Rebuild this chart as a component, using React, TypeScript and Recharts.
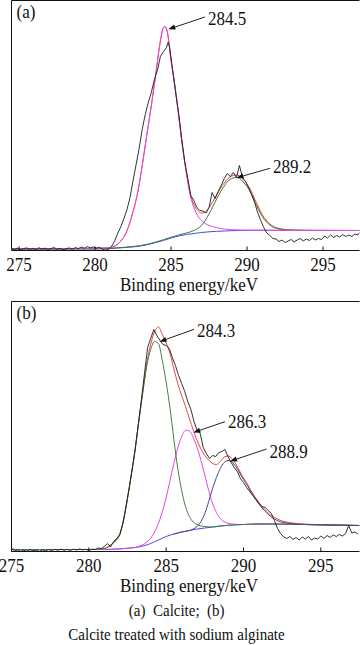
import React from 'react';
import { LineChart, Line, XAxis, YAxis, ReferenceLine } from 'recharts';

type Pt = [number, number];

const energyTicks = [275, 280, 285, 290, 295];

// ---------- Panel (a): Calcite ----------
const rawA: Pt[] = [
  [274.5,2.0],[274.7,1.0],[274.9,2.4],[275.1,0.8],[275.3,1.9],[275.5,2.6],[275.7,1.2],[275.9,2.2],[276.1,1.0],[276.3,2.8],
  [276.5,1.5],[276.7,2.4],[276.9,1.1],[277.1,2.0],[277.3,2.9],[277.5,1.3],[277.7,2.2],[277.9,0.9],[278.1,1.8],[278.3,2.6],
  [278.5,1.4],[278.7,2.9],[278.9,2.0],[279.1,3.4],[279.3,2.3],[279.5,3.8],[279.7,2.6],[279.9,3.5],[280.1,2.4],[280.3,3.2],
  [280.5,1.0],[280.7,0.4],[280.9,1.5],[281.1,4.5],[281.3,10],[281.5,17.5],[281.7,24],[281.9,32],[282.1,41],[282.3,53],
  [282.5,70],[282.7,86],[282.9,102],[283.1,121],[283.3,136],[283.5,148],[283.7,158],[283.9,171],[284.1,180],[284.3,194],
  [284.5,199],[284.7,203],[284.8,208],[284.9,204],[285.1,181],[285.3,158],[285.5,137],[285.7,112],[285.9,89],[286.1,72],
  [286.3,55],[286.5,50],[286.7,43],[286.9,40],[287.1,39.5],[287.3,37.5],[287.5,43],[287.7,58],[287.9,52],[288.1,59],
  [288.3,65],[288.5,72],[288.7,77],[288.9,74],[289.1,78],[289.3,73],[289.5,85],[289.7,73],[289.9,69],[290.1,63],
  [290.3,56],[290.5,48],[290.7,38],[290.9,30],[291.1,23],[291.3,17.5],[291.5,15],[291.7,12],[291.9,11.5],[292.1,9],
  [292.3,10.5],[292.5,8],[292.7,9.5],[292.9,11],[293.1,8.5],[293.3,10.5],[293.5,12],[293.7,9.5],[293.9,11.5],[294.1,10],
  [294.3,12.5],[294.5,10.5],[294.7,12],[294.9,11],[295.1,14.5],[295.3,12.5],[295.5,15.5],[295.7,13],[295.9,15],[296.1,13.5],
  [296.3,16],[296.5,14],[296.7,15.5],[296.9,14],[297.1,16.5],[297.3,15.5],[297.4,18],
];

const peak1A: Pt[] = [
  [274.5,1.5],[277,1.7],[279,2.0],[280,2.2],[280.5,2.5],[281,3],[281.25,4.2],[281.5,6.5],[281.75,10.5],[282,16.5],
  [282.25,26],[282.5,39],[282.75,54],[283,75],[283.25,100],[283.5,125],[283.75,150],[284,177],[284.25,205],[284.5,223],
  [284.6,224],[284.75,219],[285,190],[285.25,165],[285.5,135],[285.75,104],[286,78],[286.25,56],[286.5,43],[286.75,35],
  [287,30],[287.25,27],[287.5,25],[287.75,23.8],[288,22.8],[288.5,21.5],[289,20.8],[290,20.3],[291,20.1],[292,20],[297.4,20],
];

const peak2A: Pt[] = [
  [274.5,1.5],[280,1.6],[281,2.2],[282,3.3],[283,5],[283.5,6.5],[284,8.5],[284.5,10.8],[285,13.3],[285.5,15.5],
  [286,17.5],[286.25,18.5],[286.5,20],[286.75,22],[287,25],[287.25,30],[287.5,36.5],[287.75,44],[288,51.5],[288.25,58.5],
  [288.5,64.5],[288.75,69.5],[289,72],[289.25,73],[289.5,72],[289.75,68.5],[290,64],[290.25,57.5],[290.5,49],[290.75,41],
  [291,34],[291.25,29],[291.5,25.5],[291.75,23],[292,21.8],[292.5,20.7],[293,20.3],[294,20.1],[297.4,20],
];

const envelopeA: Pt[] = [
  [274.5,1.5],[277,1.7],[279,2.0],[280,2.2],[280.5,2.5],[281,3],[281.25,4.2],[281.5,6.5],[281.75,10.5],[282,16.5],
  [282.25,26],[282.5,39],[282.75,54],[283,75],[283.25,100],[283.5,125],[283.75,150],[284,177],[284.25,205],[284.5,223],
  [284.6,224],[284.75,219],[285,190],[285.25,165],[285.5,135],[285.75,104],[286,79],[286.25,57.5],[286.5,46],[286.75,40],
  [287,37.5],[287.25,38.5],[287.5,43],[287.75,49],[288,55.5],[288.25,62],[288.5,67.5],[288.75,72],[289,74.5],[289.25,75.5],
  [289.5,74.5],[289.75,71],[290,66.5],[290.25,60],[290.5,51.5],[290.75,43.5],[291,36],[291.25,30.5],[291.5,26.5],[291.75,24],
  [292,22.5],[292.5,21],[293,20.4],[294,20.1],[297.4,20],
];

const backgroundA: Pt[] = [
  [274.5,1.5],[280,1.6],[281,2],[282,3],[283,4.5],[283.5,6],[284,8],[284.5,10],[285,12.5],[285.5,14.5],
  [286,16],[286.5,17],[287,18],[287.5,18.7],[288,19.2],[288.5,19.5],[289,19.8],[290,20.2],[291,20.3],[293,20.2],[297.4,20],
];

// ---------- Panel (b): Calcite treated with sodium alginate ----------
const rawB: Pt[] = [
  [275.0,2.7],[275.2,0.6],[275.4,1.5],[275.6,0.3],[275.8,1.2],[276.0,0.4],[276.2,1.8],[276.4,0.7],[276.6,1.4],[276.8,0.2],
  [277.0,1.6],[277.2,0.6],[277.4,1.9],[277.6,1.0],[277.8,2.1],[278.0,1.2],[278.2,2.4],[278.4,1.3],[278.6,2.0],[278.8,1.1],
  [279.0,2.3],[279.2,1.5],[279.4,2.6],[279.6,1.6],[279.8,2.2],[280.0,1.0],[280.2,2.4],[280.4,2.0],[280.6,3.5],[280.8,3.0],
  [281.0,5],[281.2,8],[281.4,4.5],[281.6,10],[281.8,13],[282.0,17],[282.2,28],[282.4,45],[282.6,63],[282.8,82],
  [283.0,102],[283.2,128],[283.4,152],[283.6,178],[283.8,204],[284.0,213],[284.2,222],[284.4,216],[284.6,211],[284.8,207],
  [285.0,206],[285.2,203],[285.4,194],[285.6,186],[285.8,176],[286.0,168],[286.2,160],[286.4,150],[286.6,142],[286.8,130],
  [287.0,121],[287.2,118],[287.4,104],[287.6,98],[287.8,93],[288.0,96],[288.2,95],[288.4,99],[288.6,100],[288.8,102],
  [289.0,95],[289.2,89],[289.4,84],[289.6,80],[289.8,73],[290.0,69],[290.2,64],[290.4,60],[290.6,56],[290.8,52],
  [291.0,48],[291.2,45],[291.4,44],[291.6,41],[291.8,38],[292.0,31],[292.2,23],[292.4,18],[292.6,14.5],[292.8,13],
  [293.0,15],[293.2,12],[293.4,14],[293.6,11.5],[293.8,14.5],[294.0,12.5],[294.2,15],[294.4,11.5],[294.6,13.5],[294.8,12.5],
  [295.0,15.5],[295.2,13],[295.4,16],[295.6,14],[295.8,16.5],[296.0,15],[296.2,17],[296.4,15.5],[296.6,18],[296.8,26],
  [297.0,18.5],[297.2,19.5],[297.4,17.5],
];

const peak1B: Pt[] = [
  [275,2],[280.5,2],[280.75,2.5],[281,3],[281.25,4.5],[281.5,7.5],[281.75,11.5],[282,17],[282.25,32],[282.5,53],
  [282.75,77],[283,103],[283.25,132],[283.5,160],[283.75,186],[284,202],[284.25,210],[284.5,208],[284.75,191],[285,169.5],
  [285.25,143],[285.5,112],[285.75,83],[286,61],[286.25,45],[286.5,35],[286.75,29.5],[287,27],[287.25,25.5],[287.5,25],
  [287.75,24.6],[288,24.5],[288.5,25.5],[289,26.2],[290,27],[291,27.5],[292,27.5],[293,27.2],[295,26.7],[297.5,26],
];

const peak2B: Pt[] = [
  [275,3.5],[275.3,2],[281,2],[283,4],[283.25,5.3],[283.5,6.8],[283.75,9.4],[284,13.3],[284.25,19.5],[284.5,28.1],
  [284.75,39.6],[285,54.1],[285.25,70.9],[285.5,88.1],[285.75,103.5],[286,114.7],[286.25,121.2],[286.5,120.5],[286.75,114],[287,104],
  [287.25,91],[287.5,76],[287.75,61],[288,48],[288.25,39],[288.5,33],[288.75,29.8],[289,28.2],[289.5,27.2],[290,27],
  [291,27.5],[292,27.5],[293,27.2],[294,27],[295,26.7],[296,26.4],[297.5,26],
];

const peak3B: Pt[] = [
  [285.5,17.5],[286,19.5],[286.5,21],[286.75,22.5],[287,25],[287.25,30],[287.5,38],[287.75,50],[288,63],[288.25,74],
  [288.5,83],[288.75,89],[289,91],[289.25,89.5],[289.5,85],[289.75,78.5],[290,72],[290.25,66],[290.5,59],[290.75,53],
  [291,47.5],[291.25,42.5],[291.5,38.5],[291.75,35],[292,32.5],[292.25,30.5],[292.5,29.3],[293,28],[293.5,27.4],[294,27],
  [295,26.7],[296,26.4],[297.5,26],
];

const envelopeB: Pt[] = [
  [275,2],[280.5,2],[281,3],[281.5,7.5],[282,17],[282.25,32],[282.5,53],[282.75,77],[283,103],[283.25,132.6],
  [283.5,161.3],[283.75,188.7],[284,207.3],[284.25,219.8],[284.5,224.5],[284.75,217],[285,208.5],[285.25,198],[285.5,182.5],[285.75,168],
  [286,156],[286.25,145],[286.5,133],[286.75,121.5],[287,111],[287.25,102.5],[287.5,96],[287.75,91.5],[288,88],[288.25,87],
  [288.5,90],[288.75,94.5],[289,95.5],[289.25,93],[289.5,87.5],[289.75,80.5],[290,73.5],[290.25,67.5],[290.5,60.5],[290.75,54.5],
  [291,49],[291.25,44],[291.5,40],[291.75,36.5],[292,34],[292.25,32],[292.5,30.5],[293,28.8],[293.5,27.8],[294,27.3],
  [295,26.8],[296,26.4],[297.5,26],
];

const backgroundB: Pt[] = [
  [275,2],[281,2],[281.5,2.3],[282,2.7],[282.5,3.3],[283,4],[283.5,5.5],[284,8],[284.5,11.5],[285,15],
  [285.5,17.5],[286,19.5],[286.5,21],[287,22.5],[287.5,23.5],[288,24.5],[288.5,25.5],[289,26.2],[289.5,26.7],[290,27],
  [291,27.5],[292,27.5],[293,27.2],[294,27],[295,26.7],[296,26.4],[297.5,26],
];

// peak annotations: label, tail point and arrow tip (energy, intensity)
type Ann = { text: string; tail: Pt; tip: Pt; dy: number };
const annotationsA: Ann[] = [
  { text: '284.5', tail: [287.23, 233.5], tip: [284.82, 221.2], dy: 8 },
  { text: '289.2', tail: [291.51, 82.2], tip: [289.31, 72.7], dy: 5 },
];
const annotationsB: Ann[] = [
  { text: '284.3', tail: [286.8, 222.2], tip: [284.57, 209.8], dy: 7.2 },
  { text: '286.3', tail: [288.8, 129.8], tip: [286.76, 119], dy: 6.6 },
  { text: '288.9', tail: [291.49, 102.5], tip: [289.13, 90.2], dy: 9 },
];

const FONT = 'Liberation Serif, Times New Roman, serif';
const SY = 1.1;

const toRows = (pts: Pt[]) => pts.map(([x, y]) => ({ x, y }));

type Series = { name: string; data: Pt[]; color: string; width: number; type: 'monotone' | 'linear' };

const seriesA: Series[] = [
  { name: 'envelope', data: envelopeA, color: '#e8453a', width: 1, type: 'monotone' },
  { name: 'background', data: backgroundA, color: '#4a4ad8', width: 1, type: 'monotone' },
  { name: 'peak2', data: peak2A, color: '#3f7a3f', width: 1, type: 'monotone' },
  { name: 'peak1', data: peak1A, color: '#e048e0', width: 1, type: 'monotone' },
  { name: 'raw', data: rawA, color: '#1c1c1c', width: 0.9, type: 'linear' },
];

const seriesB: Series[] = [
  { name: 'envelope', data: envelopeB, color: '#e8453a', width: 1, type: 'monotone' },
  { name: 'background', data: backgroundB, color: '#4a4ad8', width: 1, type: 'monotone' },
  { name: 'peak2', data: peak2B, color: '#e048e0', width: 1, type: 'monotone' },
  { name: 'peak1', data: peak1B, color: '#4a7a4a', width: 1, type: 'monotone' },
  { name: 'peak3', data: peak3B, color: '#464a78', width: 1, type: 'monotone' },
  { name: 'raw', data: rawB, color: '#1c1c1c', width: 0.9, type: 'linear' },
];

const SText = ({ x, y, children, anchor = 'start', size = 17 }: any) => (
  <text
    transform={`translate(${x},${y}) scale(1,${SY})`}
    x={0}
    y={0}
    textAnchor={anchor}
    fontFamily={FONT}
    fontSize={size}
    fill="#111"
    style={{ whiteSpace: 'pre' }}
  >
    {children}
  </text>
);

const Tick = (props: any) => {
  const { x, y, payload } = props;
  return (
    <SText x={x} y={y + 24} anchor="middle">
      {String(payload.value)}
    </SText>
  );
};

const Arrow = (props: any) => {
  const { x1, y1, x2, y2, text, dy } = props;
  if ([x1, y1, x2, y2].some((v) => typeof v !== 'number' || isNaN(v))) return null;
  const dx = x2 - x1;
  const dyy = y2 - y1;
  const len = Math.hypot(dx, dyy) || 1;
  const ux = dx / len;
  const uy = dyy / len;
  const hl = 7;
  const hw = 2.6;
  const bx = x2 - ux * hl;
  const by = y2 - uy * hl;
  const px = -uy;
  const py = ux;
  return (
    <g>
      <line x1={x1} y1={y1} x2={bx} y2={by} stroke="#222" strokeWidth={1} />
      <polygon
        points={`${x2},${y2} ${bx + px * hw},${by + py * hw} ${bx - px * hw},${by - py * hw}`}
        fill="#111"
      />
      <SText x={x1 + 3} y={y1 + dy}>
        {text}
      </SText>
    </g>
  );
};

const Panel = ({ series, domain, annotations, top }: { series: Series[]; domain: [number, number]; annotations: Ann[]; top: number }) => (
  <div style={{ position: 'absolute', left: 0, top, width: 360, height: 300 }}>
    <LineChart width={360} height={300} margin={{ top: 0.5, right: 0.5, left: 11.5, bottom: 0 }}>
      <XAxis
        type="number"
        dataKey="x"
        domain={domain}
        ticks={energyTicks}
        interval={0}
        allowDataOverflow
        tickSize={-4}
        tickMargin={0}
        height={49.5}
        tick={<Tick />}
        axisLine={{ stroke: '#111' }}
        tickLine={{ stroke: '#111' }}
      />
      <YAxis
        type="number"
        domain={[0, 250]}
        width={0}
        tick={false}
        tickLine={false}
        allowDataOverflow
        axisLine={{ stroke: '#111' }}
      />
      <ReferenceLine y={250} stroke="#111" strokeWidth={1} />
      <ReferenceLine x={domain[0]} stroke="#111" strokeWidth={1} />
      {series.map((s) => (
        <Line
          key={s.name}
          name={s.name}
          data={toRows(s.data)}
          dataKey="y"
          type={s.type}
          stroke={s.color}
          strokeWidth={s.width}
          dot={false}
          activeDot={false}
          isAnimationActive={false}
        />
      ))}
      {annotations.map((a) => (
        <ReferenceLine
          key={a.text}
          segment={[
            { x: a.tail[0], y: a.tail[1] },
            { x: a.tip[0], y: a.tip[1] },
          ]}
          shape={(p: any) => <Arrow {...p} text={a.text} dy={a.dy} />}
        />
      ))}
    </LineChart>
  </div>
);

export default function App() {
  return (
    <div style={{ position: 'absolute', left: 0, top: 0, width: 360, height: 645, overflow: 'hidden', background: '#fff' }}>
      <Panel series={seriesA} domain={[274.5, 297.4]} annotations={annotationsA} top={0} />
      <Panel series={seriesB} domain={[275, 297.5]} annotations={annotationsB} top={301} />
      <svg width={360} height={645} style={{ position: 'absolute', left: 0, top: 0, pointerEvents: 'none' }}>
        <SText x={16.5} y={18}>(a)</SText>
        <SText x={189} y={290.5} anchor="middle">Binding energy/keV</SText>
        <SText x={16.5} y={318.5}>(b)</SText>
        <SText x={189} y={591.5} anchor="middle">Binding energy/keV</SText>
        <SText x={176.7} y={615.5} anchor="middle" size={15}>{'(a)  Calcite;  (b)'}</SText>
        <SText x={176.5} y={639.5} anchor="middle" size={15}>Calcite treated with sodium alginate</SText>
      </svg>
    </div>
  );
}
